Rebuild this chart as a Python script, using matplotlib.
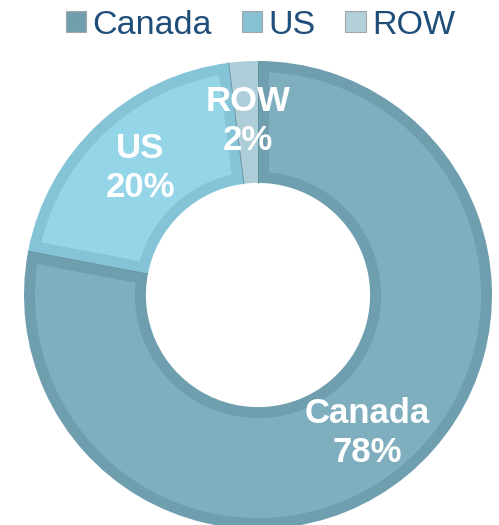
import matplotlib
matplotlib.use("Agg")
import numpy as np
import matplotlib.pyplot as plt
from matplotlib.patches import Patch, Polygon

# Data
regions = ["Canada", "US", "ROW"]
shares = [78, 20, 2]
fill_colors = ["#7FAFBF", "#95D5E8", "#B3D3DD"]
edge_colors = ["#6F9FAF", "#85C3D6", "#ADCDD8"]
legend_colors = ["#729FAE", "#88C0D4", "#B3CFDA"]

plt.rcParams['font.family'] = ['Liberation Sans', 'DejaVu Sans']

W, H = 499, 525
fig = plt.figure(figsize=(W / 100, H / 100), dpi=100)

# donut centre and radius in pixels
cx, cy, R = 258, 295, 234
ax = fig.add_axes([(cx - R) / W, (H - cy - R) / H, 2 * R / W, 2 * R / H])

# outer band of each slice is drawn by the base wedge in the darker colour
wedges, _ = ax.pie(shares, startangle=90, counterclock=False, radius=1.0,
                   colors=edge_colors,
                   wedgeprops=dict(width=0.521, linewidth=0))

# lighter inner part, inset by a constant band width
band = 11 / R
for w, fc in zip(wedges, fill_colors):
    ro = w.r - band
    ri = w.r - w.width + band
    t1, t2 = np.radians(w.theta1), np.radians(w.theta2)
    a1o, a2o = t1 + np.arcsin(band / ro), t2 - np.arcsin(band / ro)
    a1i, a2i = t1 + np.arcsin(band / ri), t2 - np.arcsin(band / ri)
    if a2o > a1o and a2i > a1i:
        ang_o = np.linspace(a1o, a2o, 200)
        ang_i = np.linspace(a2i, a1i, 200)
        pts = np.concatenate([np.column_stack([ro * np.cos(ang_o), ro * np.sin(ang_o)]),
                              np.column_stack([ri * np.cos(ang_i), ri * np.sin(ang_i)])])
        ax.add_patch(Polygon(pts, closed=True, facecolor=fc, edgecolor='none'))
    # thin separator along the slice boundary
    r_in = w.r - w.width
    ax.plot([r_in * np.cos(t1), w.r * np.cos(t1)], [r_in * np.sin(t1), w.r * np.sin(t1)],
            color="#5F8E9D", lw=0.6)

ax.set_xlim(-1, 1)
ax.set_ylim(-1, 1)
ax.set_aspect('equal')
ax.axis('off')

# slice labels (data coords)
label_pos = [(0.466, -0.59), (-0.504, 0.543), (-0.043, 0.744)]
for name, val, (x, y) in zip(regions, shares, label_pos):
    ax.text(x, y, f"{name}\n{val}%", ha='center', va='center', color='white',
            fontsize=25, fontweight='bold', linespacing=1.22)

handles = [Patch(facecolor=c, edgecolor="#A0A8AC", linewidth=0.8) for c in legend_colors]
fig.legend(handles, regions, loc='upper center', bbox_to_anchor=(0.522, 1.04),
           ncol=3, frameon=False, fontsize=24.5, handlelength=0.6, handleheight=0.6,
           handletextpad=0.18, columnspacing=0.88, labelcolor="#1F4E79")

fig.savefig("out.png", dpi=100)
